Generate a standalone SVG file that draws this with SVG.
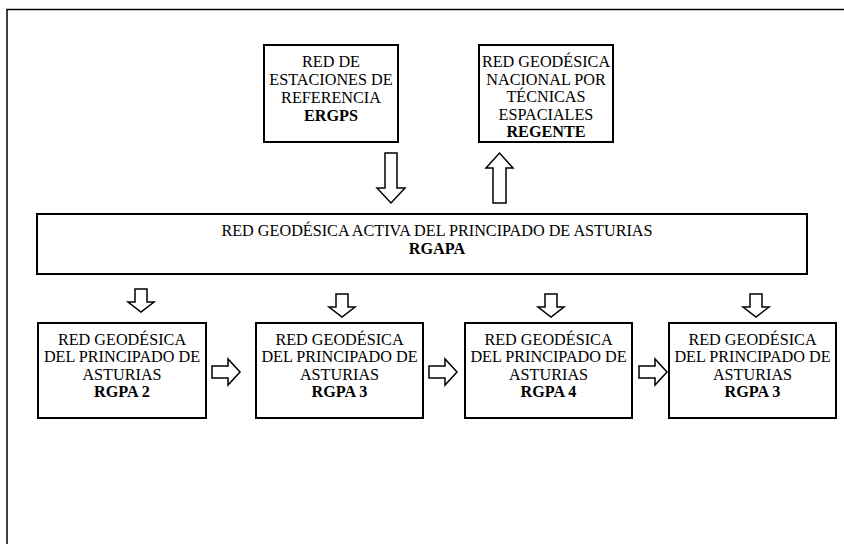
<svg xmlns="http://www.w3.org/2000/svg" width="844" height="544" viewBox="0 0 844 544">
<style>
.box{fill:#fff;stroke:#000;stroke-width:2}
.arr{fill:#fff;stroke:#000;stroke-width:1.5;stroke-linejoin:miter}
.t{font-family:'Liberation Serif','Times New Roman',serif;font-size:16.2px;fill:#000;text-anchor:middle}
.b{font-weight:bold}
.frame{fill:none;stroke:#000;stroke-width:1.5}
</style>
<rect width="844" height="544" fill="#fff"/>
<path class="frame" d="M7,544 V9.5 H844"/>
<g id="ergps" class="t">
<rect class="box" x="264" y="45" width="134" height="97"/>
<text x="331" y="67">RED DE</text>
<text x="331" y="85">ESTACIONES DE</text>
<text x="331" y="103">REFERENCIA</text>
<text x="331" y="121" class="b">ERGPS</text>
</g>
<g id="regente" class="t">
<rect class="box" x="479" y="45" width="134" height="97"/>
<text x="546" y="67">RED GEODÉSICA</text>
<text x="546" y="84.5">NACIONAL POR</text>
<text x="546" y="102">TÉCNICAS</text>
<text x="546" y="119.5">ESPACIALES</text>
<text x="546" y="137" class="b">REGENTE</text>
</g>
<g id="rgapa" class="t">
<rect class="box" x="37" y="214" width="770" height="60"/>
<text x="437" y="236">RED GEODÉSICA ACTIVA DEL PRINCIPADO DE ASTURIAS</text>
<text x="437" y="254" class="b">RGAPA</text>
</g>
<g id="rgpa2" class="t">
<rect class="box" x="38" y="323" width="168" height="95"/>
<text x="122" y="344.5">RED GEODÉSICA</text>
<text x="122" y="362">DEL PRINCIPADO DE</text>
<text x="122" y="379.5">ASTURIAS</text>
<text x="122" y="397" class="b">RGPA 2</text>
</g>
<g id="rgpa3a" class="t">
<rect class="box" x="256" y="323" width="167" height="95"/>
<text x="339.5" y="344.5">RED GEODÉSICA</text>
<text x="339.5" y="362">DEL PRINCIPADO DE</text>
<text x="339.5" y="379.5">ASTURIAS</text>
<text x="339.5" y="397" class="b">RGPA 3</text>
</g>
<g id="rgpa4" class="t">
<rect class="box" x="465" y="323" width="167" height="95"/>
<text x="548.5" y="344.5">RED GEODÉSICA</text>
<text x="548.5" y="362">DEL PRINCIPADO DE</text>
<text x="548.5" y="379.5">ASTURIAS</text>
<text x="548.5" y="397" class="b">RGPA 4</text>
</g>
<g id="rgpa3b" class="t">
<rect class="box" x="669" y="323" width="167" height="95"/>
<text x="752.5" y="344.5">RED GEODÉSICA</text>
<text x="752.5" y="362">DEL PRINCIPADO DE</text>
<text x="752.5" y="379.5">ASTURIAS</text>
<text x="752.5" y="397" class="b">RGPA 3</text>
</g>
<g id="connectors">
<path class="arr" d="M385,153 H397 V188 H405 L391,203 L377,188 H385 Z"/>
<path class="arr" d="M493,203 H506 V168 H513 L499.5,153 L486,168 H493 Z"/>
<path class="arr" d="M135,289 H147 V302 H154 L141,312 L128,302 H135 Z"/>
<path class="arr" d="M336,294 H348 V307 H355 L342,317 L329,307 H336 Z"/>
<path class="arr" d="M545,294 H557 V307 H564 L551,317 L538,307 H545 Z"/>
<path class="arr" d="M750,294 H762 V307 H769 L756,317 L743,307 H750 Z"/>
<path class="arr" d="M212,366 H228 V359 L240,372 L228,385 V378 H212 Z"/>
<path class="arr" d="M429,366 H445 V359 L457,372 L445,385 V378 H429 Z"/>
<path class="arr" d="M639,366 H655 V359 L667,372 L655,385 V378 H639 Z"/>
</g>
</svg>
